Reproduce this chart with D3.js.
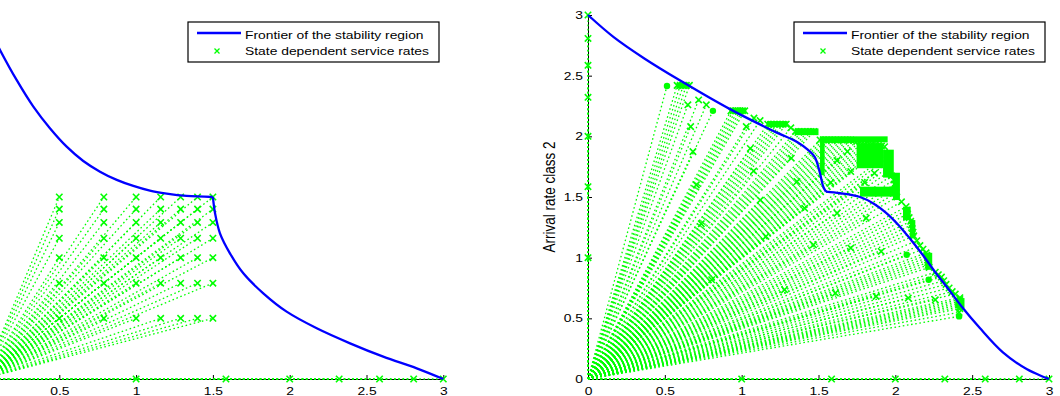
<!DOCTYPE html>
<html>
<head>
<meta charset="utf-8">
<script src="https://cdn.jsdelivr.net/npm/d3@7"></script>
<style>
body { margin: 0; background: #fff; }
text { font-family: "Liberation Sans", Arial, sans-serif; fill: #000; }
</style>
</head>
<body>
<div id="root"></div>
<script>
// axis ticks shared by both panels
const tickValues = [0, 0.5, 1, 1.5, 2, 2.5, 3]
// service rates found on the axes (one class alone)
const axisRates = [1, 1.585, 2, 2.322, 2.585, 2.807, 3]
// left panel: rate levels of the grid of markers
const leftLevels = [0.5, 0.79, 1.0, 1.16, 1.29, 1.4, 1.5]

// frontier of the stability region, split at the cusp
const leftFrontierUpper = [[0,3],[0.114,2.712],[0.222,2.465],[0.331,2.245],[0.439,2.067],[0.548,1.915],
	[0.656,1.797],[0.765,1.709],[0.874,1.641],[0.982,1.591],[1.09,1.552],[1.199,1.528],[1.329,1.509],[1.5,1.5]]
const leftFrontierLower = [[1.5,1.5],[1.514,1.366],[1.546,1.201],[1.611,1.036],[1.698,0.871],[1.828,0.706],
	[1.98,0.555],[2.176,0.418],[2.393,0.294],[2.609,0.184],[2.827,0.088],[3,0]]

const rightFrontierUpper = [[0,3],[0.165,2.82],[0.369,2.64],[0.6,2.46],[0.933,2.218],[1.215,2.039],
	[1.366,1.95],[1.43,1.89],[1.475,1.83],[1.509,1.70],[1.531,1.585],[1.548,1.544]]
const rightFrontierLower = [[1.548,1.544],[1.64,1.531],[1.77,1.50],[1.86,1.445],[1.94,1.37],[2.02,1.27],
	[2.1,1.15],[2.18,1.02],[2.26,0.88],[2.34,0.75],[2.43,0.6],[2.55,0.42],[2.7,0.22],[2.857,0.08],[3,0]]

// right panel: isolated markers
const rightMarks = [[0.65,2.26],[0.668,2.08],[0.683,1.874],[0.705,1.60],[0.737,1.28],[1.03,2.08],[1.056,1.90],
	[1.078,1.715],[1.121,1.475],[1.323,1.82],[1.36,1.627],[1.41,1.407],[0.805,0.818],[1.158,1.175],[1.279,0.736],
	[1.467,1.106],[1.621,1.367],[1.81,1.326],[1.71,1.079],[1.908,1.051],[1.61,0.708],[1.875,0.681],[2.084,0.667],
	[2.26,0.653],[1.688,1.875],[1.71,1.71],[1.864,1.696],[1.62,1.8],[1.8,1.62],[1.58,1.62]]
// right panel: blobs of overlapping markers
const rightDots = [[0.514,2.415],[0.813,2.21],[2.217,0.818],[2.074,1.024],[2.415,0.516]]
// right panel: markers packed in clusters near the frontier
const rightClusterPts = [
	[0.58,2.42],[0.60,2.42],[0.62,2.42],[0.64,2.42],[0.66,2.42],[0.72,2.3],[0.77,2.26],
	[0.93,2.21],[0.945,2.21],[0.96,2.21],[0.975,2.21],[0.99,2.21],[1.005,2.21],[1.02,2.21],[1.08,2.15],[1.12,2.13],
	[1.17,2.1],[1.19,2.1],[1.21,2.1],[1.23,2.1],[1.25,2.1],[1.27,2.1],[1.29,2.1],[1.32,2.07],
	[1.35,2.04],[1.37,2.04],[1.39,2.04],[1.41,2.04],[1.43,2.04],[1.45,2.04],[1.47,2.04],
	[1.51,1.97],[1.53,1.97],[1.55,1.97],[1.57,1.97],[1.59,1.97],[1.61,1.97],[1.63,1.97],[1.65,1.97],[1.67,1.97],
	[1.69,1.97],[1.71,1.97],[1.73,1.965],[1.75,1.96],[1.77,1.955],[1.79,1.95],[1.81,1.945],[1.83,1.94],[1.85,1.935],
	[1.87,1.93],[1.89,1.925],[1.91,1.92],[1.93,1.915],
	[1.95,1.85],[1.95,1.82],[1.95,1.78],[1.955,1.745],[1.96,1.71],[1.975,1.675],[1.99,1.64],[1.995,1.605],[2.0,1.57],
	[2.005,1.535],[2.01,1.50],[2.04,1.46],[2.07,1.42],[2.075,1.39],[2.08,1.36],[2.09,1.33],[2.1,1.30],[2.105,1.27],
	[2.11,1.24],[2.115,1.21],[2.12,1.18],[2.14,1.14],[2.16,1.10],[2.18,1.07],
	[2.2,1.04],[2.205,1.02],[2.21,1.0],[2.21,0.98],[2.21,0.96],[2.215,0.94],[2.22,0.92],
	[2.26,0.88],[2.28,0.86],[2.3,0.84],[2.315,0.81],[2.33,0.78],[2.35,0.75],[2.37,0.72],[2.39,0.70],
	[2.42,0.67],[2.42,0.655],[2.42,0.64],[2.42,0.625],[2.42,0.61],[2.42,0.595],[2.42,0.58],[2.415,0.55]]
// right panel: solid areas where the cluster markers overlap [x0, y0, x1, y1]
const rightBlocks = [[0.575,2.395,0.66,2.44],[0.92,2.19,1.03,2.235],[1.165,2.08,1.30,2.125],[1.345,2.01,1.5,2.065],
	[1.51,1.95,1.95,2.0],[1.748,1.737,1.921,1.943],[1.51,1.68,1.54,1.97],[1.92,1.66,1.99,1.89],
	[1.985,1.475,2.03,1.70],[1.77,1.503,2.01,1.585],[2.05,1.31,2.1,1.42],[2.095,1.16,2.13,1.31],
	[2.195,0.90,2.24,1.04],[2.39,0.585,2.45,0.667]]

const legendLabels = ["Frontier of the stability region", "State dependent service rates"]

const width = 1060, height = 396
const SX = 1.26 // horizontal stretch of the original figure
const GREEN = "#00ff00"

const svg = d3.select('#root').append('svg')
	.attr('width', width)
	.attr('height', height)

function crossGrid(levels) {
	const pts = []
	levels.forEach(a => levels.forEach(b => pts.push([a, b])))
	return pts
}

function axisPoints(rates) {
	return rates.map(r => [r, 0]).concat(rates.map(r => [0, r]))
}

function createPanel({ left, right, upper, lower, marks, dots = [], clusters = [], blocks = [], legendX, yLabel }) {
	const x = d3.scaleLinear().domain([0, 3]).range([left, right])
	const y = d3.scaleLinear().domain([0, 3]).range([379, 15])
	const g = svg.append('g')

	// axes
	const xAxis = g.append('g')
		.attr('transform', `translate(0,${y(0)})`)
		.call(d3.axisBottom(x).tickValues(tickValues).tickSizeInner(-4).tickSizeOuter(0).tickPadding(8)
			.tickFormat(d3.format('~g')))
	const yAxis = g.append('g')
		.attr('transform', `translate(${x(0)},0)`)
		.call(d3.axisLeft(y).tickValues(tickValues).tickSizeInner(-4).tickSizeOuter(0).tickPadding(4)
			.tickFormat(d3.format('~g')))
	;[xAxis, yAxis].forEach(a => {
		a.select('.domain').attr('stroke', '#000')
		a.selectAll('.tick line').attr('stroke', '#000')
		a.selectAll('text')
			.style('font-size', '11px')
			.attr('transform', `scale(${SX},1)`)
	})
	// labels that fall outside the picture are left out
	if (x(0) < 10) {
		yAxis.selectAll('text').remove()
		xAxis.selectAll('.tick').filter(d => d === 0).select('text').remove()
	}

	if (yLabel && x(0) > 60) {
		g.append('text')
			.attr('transform', `translate(${x(0) - 33},197) scale(${SX},1) rotate(-90)`)
			.attr('text-anchor', 'middle')
			.style('font-size', '13.5px')
			.text(yLabel)
	}

	const all = marks.concat(dots, clusters, axisPoints(axisRates))

	// dotted rays from the origin to every service rate pair
	g.append('g')
		.selectAll('line')
		.data(all)
		.enter()
		.append('line')
		.attr('x1', x(0)).attr('y1', y(0))
		.attr('x2', d => x(d[0])).attr('y2', d => y(d[1]))
		.attr('stroke', GREEN)
		.attr('stroke-width', 1.3)
		.attr('stroke-dasharray', '1.6,2.6')

	g.append('g')
		.selectAll('rect')
		.data(blocks)
		.enter()
		.append('rect')
		.attr('x', d => x(d[0]))
		.attr('y', d => y(d[3]))
		.attr('width', d => x(d[2]) - x(d[0]))
		.attr('height', d => y(d[1]) - y(d[3]))
		.attr('fill', GREEN)

	const cross = 'M-3.2,-3.2L3.2,3.2M-3.2,3.2L3.2,-3.2'
	g.append('g')
		.selectAll('path')
		.data(marks.concat(clusters, axisPoints(axisRates)))
		.enter()
		.append('path')
		.attr('d', cross)
		.attr('transform', d => `translate(${x(d[0])},${y(d[1])})`)
		.attr('stroke', GREEN)
		.attr('stroke-width', 1.6)
		.attr('fill', 'none')

	g.append('g')
		.selectAll('circle')
		.data(dots)
		.enter()
		.append('circle')
		.attr('cx', d => x(d[0]))
		.attr('cy', d => y(d[1]))
		.attr('r', 3.2)
		.attr('fill', GREEN)

	// frontier
	const line = d3.line()
		.x(d => x(d[0]))
		.y(d => y(d[1]))
		.curve(d3.curveCatmullRom.alpha(0.5))
	;[upper, lower].forEach(part => {
		g.append('path')
			.attr('d', line(part))
			.attr('fill', 'none')
			.attr('stroke', '#0000ff')
			.attr('stroke-width', 2.3)
	})

	// legend
	const lg = g.append('g').attr('transform', `translate(${legendX},22)`)
	lg.append('rect')
		.attr('width', 251).attr('height', 40)
		.attr('fill', '#fff')
		.attr('stroke', '#000')
		.attr('stroke-width', 1.2)
	lg.append('line')
		.attr('x1', 9).attr('x2', 53).attr('y1', 11).attr('y2', 11)
		.attr('stroke', '#0000ff').attr('stroke-width', 2.3)
	lg.append('path')
		.attr('d', 'M-2.5,-2.5L2.5,2.5M-2.5,2.5L2.5,-2.5')
		.attr('transform', 'translate(29,29)')
		.attr('stroke', GREEN).attr('stroke-width', 1.3)
	lg.selectAll('text.lbl')
		.data(legendLabels)
		.enter()
		.append('text')
		.attr('class', 'lbl')
		.attr('transform', (d, i) => `translate(57,${16.5 + i * 16.7}) scale(${SX},1)`)
		.style('font-size', '11px')
		.text(d => d)
}

createPanel({
	left: -17.5, right: 443.3,
	upper: leftFrontierUpper, lower: leftFrontierLower,
	marks: crossGrid(leftLevels),
	legendX: 188,
	yLabel: 'Arrival rate class 2',
})

createPanel({
	left: 588, right: 1049,
	upper: rightFrontierUpper, lower: rightFrontierLower,
	marks: rightMarks, dots: rightDots, clusters: rightClusterPts, blocks: rightBlocks,
	legendX: 794,
	yLabel: 'Arrival rate class 2',
})
</script>
</body>
</html>
